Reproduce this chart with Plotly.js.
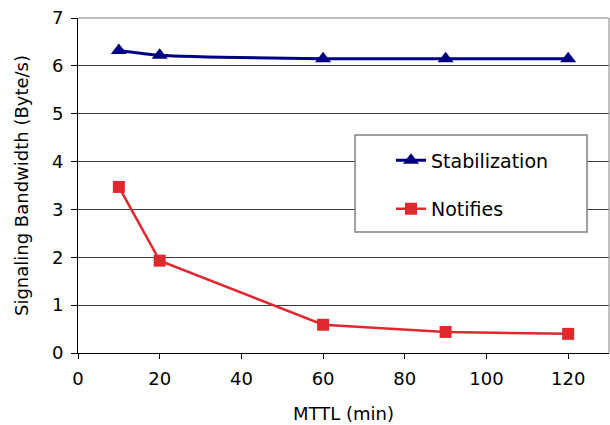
<!DOCTYPE html>
<html>
<head>
<meta charset="utf-8">
<script src="https://cdn.plot.ly/plotly-3.0.1.min.js"></script>
<style>html,body{margin:0;padding:0;background:#fff;}#chart{width:610px;height:425px;}</style>
</head>
<body>
<div id="chart"></div>
<script>
const mttl = [10, 20, 60, 90, 120];
const stabilization = [6.32, 6.22, 6.15, 6.15, 6.15];
const notifies = [3.47, 1.93, 0.59, 0.44, 0.40];
const xTicks = [0, 20, 40, 60, 80, 100, 120];
const yTicks = [0, 1, 2, 3, 4, 5, 6, 7];

const font = "DejaVu Sans, Verdana, sans-serif";

const traces = [
  {
    x: mttl, y: stabilization, name: "Stabilization", type: "scatter", mode: "lines+markers",
    line: {color: "#000080", width: 3, shape: "spline", smoothing: 0.6},
    marker: {symbol: "triangle-up", size: 14, color: "#000080"},
    legendgroup: "a"
  },
  {
    x: mttl, y: notifies, name: "Notifies", type: "scatter", mode: "lines+markers",
    line: {color: "#e0282f", width: 2.5},
    marker: {symbol: "square", size: 12, color: "#e0282f"},
    legendgroup: "b"
  }
];

const layout = {
  width: 610, height: 425,
  margin: {l: 78, r: 1, t: 18, b: 72},
  paper_bgcolor: "#fff", plot_bgcolor: "#fff",
  font: {family: font, size: 18, color: "#000"},
  showlegend: true,
  legend: {
    x: (391 - 78) / 531, y: 0.632, xanchor: "left", yanchor: "top",
    bgcolor: "rgba(0,0,0,0)", borderwidth: 0,
    tracegroupgap: 21, traceorder: "grouped",
    font: {family: font, size: 19, color: "#000"}
  },
  xaxis: {
    range: [0, 130], tickvals: xTicks, ticktext: xTicks.map(String),
    showgrid: false, zeroline: false,
    showline: true, linecolor: "#000", linewidth: 1,
    ticks: "outside", ticklen: 5, tickcolor: "#000",
    tickfont: {family: font, size: 18},
    ticklabelstandoff: 4,
    title: {text: "MTTL (min)", font: {family: font, size: 18}, standoff: 19}
  },
  yaxis: {
    range: [0, 7], tickvals: yTicks, ticktext: yTicks.map(String),
    showgrid: true, gridcolor: "#3a3a3a", gridwidth: 1, zeroline: false,
    showline: true, linecolor: "#000", linewidth: 1,
    ticks: "outside", ticklen: 6, tickcolor: "#000",
    tickfont: {family: font, size: 18},
    ticklabelstandoff: 4,
    title: {text: "Signaling Bandwidth (Byte/s)", font: {family: font, size: 18}, standoff: 18}
  },
  shapes: [
    {type: "line", xref: "paper", yref: "paper", x0: 0, x1: 1, y0: 1, y1: 1, line: {color: "#808080", width: 1}},
    {type: "line", xref: "paper", yref: "paper", x0: 1, x1: 1, y0: 0, y1: 1, line: {color: "#808080", width: 1}},
    {type: "rect", xref: "paper", yref: "paper", x0: 0.5217, x1: 0.9586, y0: 0.361, y1: 0.651,
     fillcolor: "#fff", line: {color: "#808080", width: 1.5}, layer: "above"}
  ]
};

Plotly.newPlot("chart", traces, layout, {displayModeBar: false, staticPlot: true});
</script>
</body>
</html>
